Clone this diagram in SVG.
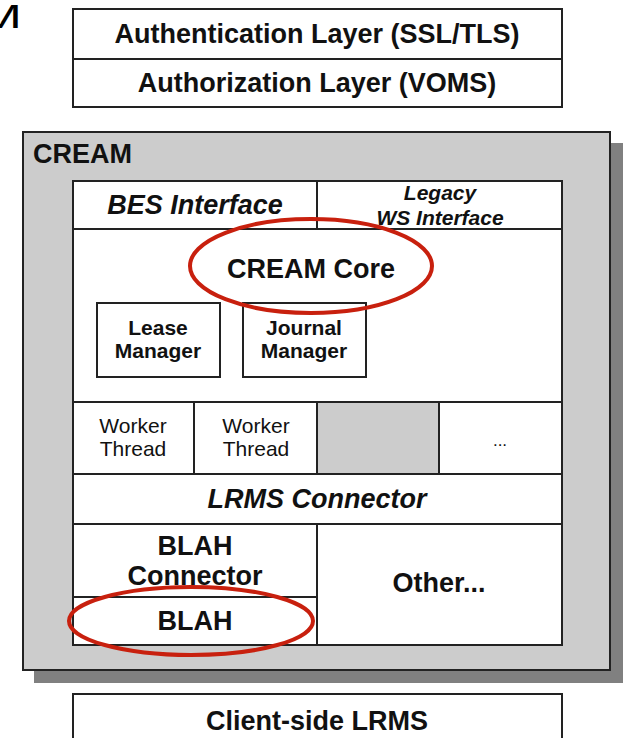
<svg xmlns="http://www.w3.org/2000/svg" width="623" height="738" viewBox="0 0 623 738">
  <style>
    .box { fill: #ffffff; stroke: #222222; stroke-width: 2; }
    .rule { stroke: #222222; stroke-width: 2; fill: none; }
    .t { font-family: "Liberation Sans", Arial, sans-serif; fill: #111111; text-anchor: middle; }
    .b { font-weight: bold; font-size: 27px; }
    .bi { font-weight: bold; font-style: italic; font-size: 27px; }
    .small-b { font-weight: bold; font-size: 21px; }
    .small-bi { font-weight: bold; font-style: italic; font-size: 21px; }
    .small { font-size: 21px; }
    .ring { fill: none; stroke: #c8200e; stroke-width: 4; }
  </style>

  <rect width="623" height="738" fill="#ffffff"/>

  <!-- clipped letter at the page edge -->
  <text class="t" transform="translate(0,28) scale(1.6,1)" x="-13.7" y="0" style="text-anchor:start;font-size:33px;fill:#000">M</text>

  <!-- security layers -->
  <g id="security-layers">
    <rect class="box" x="73" y="9" width="489" height="98"/>
    <line class="rule" x1="73" y1="59" x2="562" y2="59"/>
    <text class="t b" x="317" y="43">Authentication Layer (SSL/TLS)</text>
    <text class="t b" x="317" y="92">Authorization Layer (VOMS)</text>
  </g>

  <!-- CREAM container -->
  <g id="cream">
    <rect x="34" y="143" width="589" height="540" fill="#808080"/>
    <rect x="23" y="132" width="587" height="538" fill="#cccccc" stroke="#222222" stroke-width="2"/>
    <text class="t b" x="33" y="163" style="text-anchor:start">CREAM</text>
    <rect class="box" x="73" y="181" width="489" height="464"/>
  </g>

  <g id="bes-interface">
    <text class="t bi" x="195" y="214">BES Interface</text>
  </g>
  <g id="legacy-ws-interface">
    <line class="rule" x1="317" y1="181" x2="317" y2="229"/>
    <text class="t small-bi" x="440" y="200">Legacy</text>
    <text class="t small-bi" x="440" y="225">WS Interface</text>
  </g>

  <g id="cream-core">
    <line class="rule" x1="73" y1="229" x2="562" y2="229"/>
    <text class="t b" x="311" y="278">CREAM Core</text>
  </g>

  <g id="lease-manager">
    <rect class="box" x="97" y="303" width="123" height="74"/>
    <text class="t small-b" x="158" y="335">Lease</text>
    <text class="t small-b" x="158" y="358">Manager</text>
  </g>

  <g id="journal-manager">
    <rect class="box" x="243" y="303" width="123" height="74"/>
    <text class="t small-b" x="304" y="335">Journal</text>
    <text class="t small-b" x="304" y="358">Manager</text>
  </g>

  <!-- worker thread pool -->
  <g id="worker-pool">
    <rect x="317" y="402" width="122" height="72" fill="#cccccc"/>
    <line class="rule" x1="73" y1="402" x2="562" y2="402"/>
    <line class="rule" x1="194" y1="402" x2="194" y2="474"/>
    <line class="rule" x1="317" y1="402" x2="317" y2="474"/>
    <line class="rule" x1="439" y1="402" x2="439" y2="474"/>
    <text class="t small" x="133" y="433">Worker</text>
    <text class="t small" x="133" y="456">Thread</text>
    <text class="t small" x="256" y="433">Worker</text>
    <text class="t small" x="256" y="456">Thread</text>
    <text class="t" x="500" y="446" style="font-size:17px">...</text>
  </g>

  <g id="lrms-connector">
    <line class="rule" x1="73" y1="474" x2="562" y2="474"/>
    <text class="t bi" x="317" y="508">LRMS Connector</text>
  </g>

  <g id="blah-connector">
    <line class="rule" x1="73" y1="524" x2="562" y2="524"/>
    <line class="rule" x1="317" y1="524" x2="317" y2="645"/>
    <text class="t b" x="195" y="555">BLAH</text>
    <text class="t b" x="195" y="585">Connector</text>
  </g>

  <g id="blah">
    <line class="rule" x1="73" y1="597" x2="317" y2="597"/>
    <text class="t b" x="195" y="630">BLAH</text>
  </g>

  <g id="other">
    <text class="t b" x="439" y="592">Other...</text>
  </g>

  <g id="client-side-lrms">
    <rect class="box" x="73" y="694" width="489" height="60"/>
    <text class="t b" x="317" y="730">Client-side LRMS</text>
  </g>

  <!-- highlight rings -->
  <g id="connectors">
    <ellipse class="ring" cx="311" cy="266" rx="121" ry="47"/>
    <ellipse class="ring" cx="191" cy="621" rx="122" ry="34"/>
  </g>
</svg>
